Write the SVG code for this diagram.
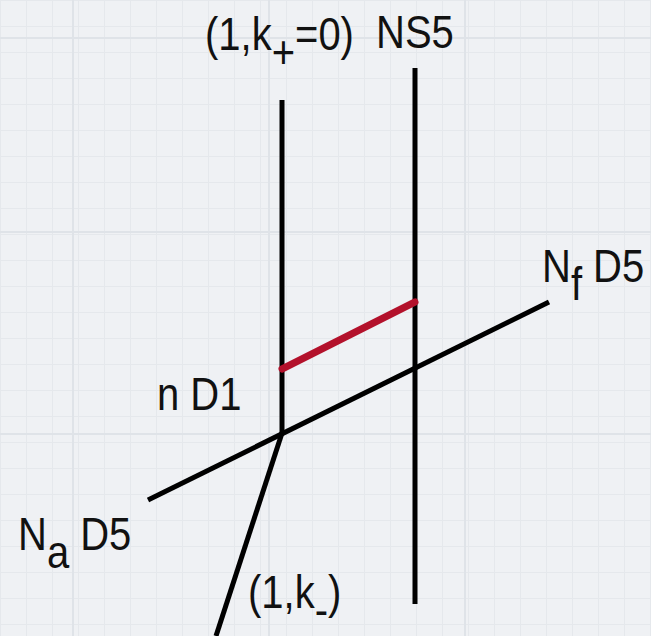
<svg xmlns="http://www.w3.org/2000/svg" width="651" height="636" viewBox="0 0 651 636">
<defs>
<pattern id="grid" width="26" height="26" patternUnits="userSpaceOnUse">
<path d="M0 0.5H26M0.5 0V26" stroke="#e5e8ec" stroke-width="1" fill="none"/>
</pattern>
</defs>
<style>
.ln{stroke:#000;stroke-width:5;stroke-linecap:butt;fill:none}
.red{stroke:#b3112b;stroke-width:7;stroke-linecap:round;fill:none}
.t{font-family:"Liberation Sans",Arial,sans-serif;font-size:40px;fill:#111}
</style>
<rect width="651" height="636" fill="#eff1f4"/>
<rect width="651" height="636" fill="url(#grid)"/>
<g stroke="#dfe3e8" stroke-width="2" fill="none">
<path d="M0 38H651M0 232H651M0 434H651M73 0V636M269 0V636M465 0V636"/>
</g>
<g id="connectors">
<line class="ln" x1="282" y1="100" x2="282" y2="434"/>
<line class="ln" x1="415" y1="68" x2="415" y2="604"/>
<line class="ln" x1="148" y1="500" x2="549" y2="302"/>
<line class="ln" x1="283" y1="430" x2="216" y2="636"/>
<line class="red" x1="282" y1="369" x2="415" y2="302"/>
</g>
<g id="label-k-plus"><text class="t" transform="translate(205,50) scale(1,1.15)">(1,k<tspan dy="16">+</tspan><tspan dy="-16">=0)</tspan></text></g>
<g id="label-ns5"><text class="t" transform="translate(376,48) scale(1,1.15)">NS5</text></g>
<g id="label-nf-d5"><text class="t" transform="translate(542,282) scale(1,1.15)">N<tspan dy="16">f</tspan><tspan dy="-16"> D5</tspan></text></g>
<g id="label-n-d1"><text class="t" transform="translate(157,410) scale(1,1.15)">n D1</text></g>
<g id="label-na-d5"><text class="t" transform="translate(18,550) scale(1,1.15)">N<tspan dy="16">a</tspan><tspan dy="-16"> D5</tspan></text></g>
<g id="label-k-minus"><text class="t" transform="translate(248,608) scale(1,1.15)">(1,k<tspan dy="16">-</tspan><tspan dy="-16">)</tspan></text></g>
</svg>
